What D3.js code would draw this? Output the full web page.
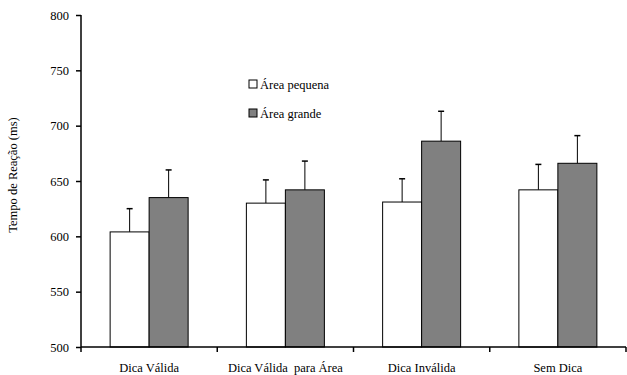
<!DOCTYPE html>
<html>
<head>
<meta charset="utf-8">
<script src="https://cdn.jsdelivr.net/npm/d3@7"></script>
<style>
  body { margin: 0; background: #fff; }
  svg { display: block; }
</style>
</head>
<body>
<svg id="chart" width="627" height="375"></svg>
<script>
const categories = ["Dica Válida", "Dica Válida  para Área", "Dica Inválida", "Sem Dica"];
const seriesNames = ["Área pequena", "Área grande"];
const smallArea = [604, 630, 631, 642];
const smallAreaErr = [21, 21, 21, 23];
const largeArea = [635, 642, 686, 666];
const largeAreaErr = [25, 26, 27, 25];
const yTicks = [500, 550, 600, 650, 700, 750, 800];
const colors = ["#ffffff", "#808080"];

(function () {
const FONT = "'Liberation Serif', 'Times New Roman', Times, serif";
const FS = "12.5px";
const svg = d3.select("#chart").attr("font-family", FONT);
const mLeft = 81, mRight = 626, mTop = 15, mBottom = 347;

const x = d3.scaleBand().domain(categories).range([mLeft, mRight]).paddingInner(0).paddingOuter(0);
const y = d3.scaleLinear().domain([500, 800]).range([mBottom, mTop]);
const barW = 39;

const series = [
  { name: seriesNames[0], values: smallArea, errs: smallAreaErr, color: colors[0] },
  { name: seriesNames[1], values: largeArea, errs: largeAreaErr, color: colors[1] }
];

series.forEach((s, si) => {
  const g = svg.append("g");
  categories.forEach((c, i) => {
    const cx = x(c) + x.bandwidth() / 2;
    const bx = cx - barW + si * barW;
    const v = s.values[i];
    const e = s.errs[i];
    const mx = bx + barW / 2;
    g.append("line").attr("x1", mx).attr("x2", mx)
      .attr("y1", y(v)).attr("y2", y(v + e))
      .attr("stroke", "#000").attr("stroke-width", 1);
    g.append("line").attr("x1", mx - 3).attr("x2", mx + 3)
      .attr("y1", y(v + e)).attr("y2", y(v + e))
      .attr("stroke", "#000").attr("stroke-width", 1.5);
    g.append("rect").attr("x", bx).attr("y", y(v))
      .attr("width", barW).attr("height", y(500) - y(v))
      .attr("fill", s.color).attr("stroke", "#000").attr("stroke-width", 1);
  });
});

const yAxis = svg.append("g").attr("transform", `translate(${mLeft},0)`)
  .call(d3.axisLeft(y).tickValues(yTicks).tickSize(5).tickPadding(7).tickFormat(d3.format("d")));
yAxis.attr("font-family", FONT).attr("font-size", FS);
yAxis.select(".domain").attr("stroke", "#000").attr("stroke-width", 1.5).attr("d", `M0,${mTop}V${mBottom}`);
yAxis.selectAll(".tick line").attr("stroke", "#000").attr("stroke-width", 1.5);
yAxis.selectAll("text").attr("fill", "#000");

const xTickPos = categories.map(c => x(c)).concat([mRight]);
const xAxisG = svg.append("g").attr("transform", `translate(0,${mBottom})`);
xAxisG.append("line").attr("x1", mLeft).attr("x2", mRight).attr("y1", 0).attr("y2", 0)
  .attr("stroke", "#000").attr("stroke-width", 1.5);
xAxisG.selectAll("line.tk").data(xTickPos).enter().append("line").attr("class", "tk")
  .attr("x1", d => d).attr("x2", d => d).attr("y1", 0).attr("y2", 5)
  .attr("stroke", "#000").attr("stroke-width", 1.5);
xAxisG.selectAll("text.cat").data(categories).enter().append("text").attr("class", "cat")
  .attr("x", d => x(d) + x.bandwidth() / 2).attr("y", 25)
  .attr("text-anchor", "middle").attr("font-size", FS)
  .style("white-space", "pre")
  .text(d => d);

svg.append("text").attr("transform", `translate(17,175) rotate(-90)`)
  .attr("text-anchor", "middle").attr("font-size", FS)
  .text("Tempo de Reação (ms)");

const legend = svg.append("g").attr("transform", "translate(249,80)");
series.forEach((s, i) => {
  const g = legend.append("g").attr("transform", `translate(0,${i * 29})`);
  g.append("rect").attr("x", 0).attr("y", 0).attr("width", 8).attr("height", 8)
    .attr("fill", s.color).attr("stroke", "#000").attr("stroke-width", 1);
  g.append("text").attr("x", 11).attr("y", 9).attr("font-size", FS).text(s.name);
});
})();
</script>
</body>
</html>
